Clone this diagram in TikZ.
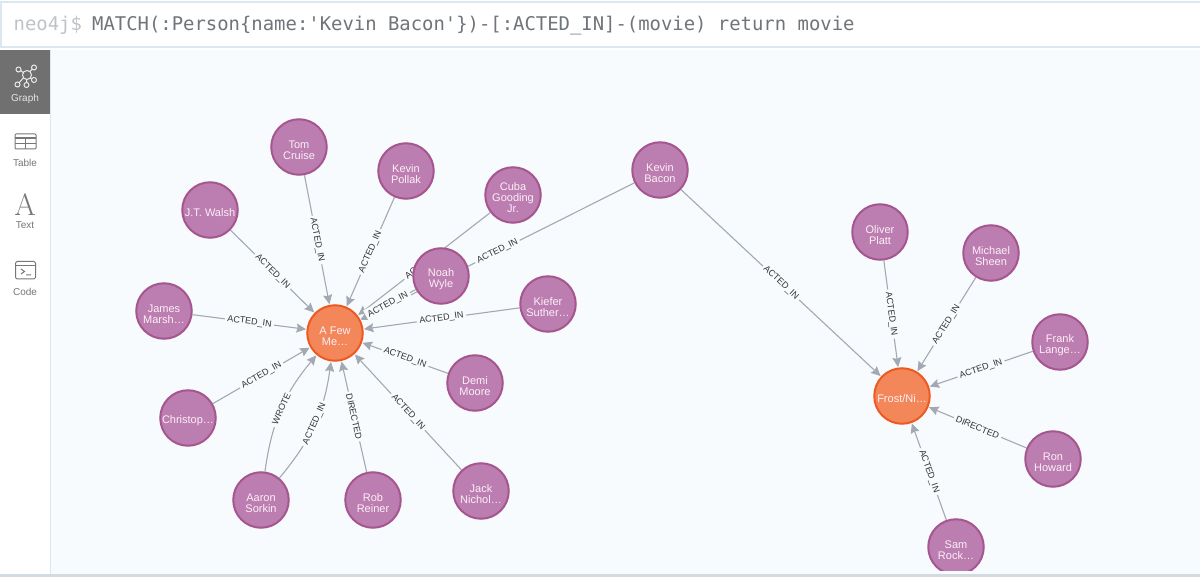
\documentclass[tikz,border=0pt]{standalone}
\usepackage{fontspec}
\setmainfont{Liberation Sans}
\newfontfamily\qfont{DejaVu Sans Mono}
\newfontfamily\afont{Latin Modern Roman}
\usetikzlibrary{arrows.meta,backgrounds}
\newcommand\fl{\rule{0pt}{13.5pt}}
\definecolor{graphbg}{HTML}{F8FBFE}
\definecolor{barline}{HTML}{DCE8F0}
\definecolor{stripc}{HTML}{D3DBE1}
\definecolor{edgec}{HTML}{A2A9B3}
\definecolor{person}{HTML}{BC7EB0}
\definecolor{personb}{HTML}{A5568F}
\definecolor{movie}{HTML}{F4875A}
\definecolor{movieb}{HTML}{EC5A22}
\definecolor{tabc}{HTML}{707070}
\definecolor{iconc}{HTML}{777777}
\definecolor{qgray}{HTML}{6F757A}
\definecolor{qlight}{HTML}{BFC3C7}
\definecolor{ntext}{HTML}{FBEFF8}
\tikzset{
  x=1pt,y=-1pt,
  personnode/.style={circle,draw=personb,fill=person,line width=2pt,minimum size=55.5pt,inner sep=0pt,outer sep=1pt,align=center,text=ntext,font=\fontsize{11}{11.2}\selectfont},
  movienode/.style={personnode,draw=movieb,fill=movie},
  edgeline/.style={draw=edgec,line width=1.1pt,shorten >=0.5pt,-{Stealth[length=9.5pt,width=9pt,inset=1.2pt]}},
  elabel/.style={sloped,pos=.5,fill=graphbg,inner sep=2.5pt,text=black!80,font=\fontsize{9}{9}\selectfont},
  sidelabel/.style={font=\fontsize{10}{10}\selectfont,text=iconc,inner sep=0pt},
  iconline/.style={draw=iconc,line width=1pt},
  graphicon/.style={draw=white!92!black,line width=1pt},
}
\begin{document}
\begin{tikzpicture}
\useasboundingbox (0,0) rectangle (1200,577);
% people
\node[personnode] (tom) at (299,147) {\fl Tom\\Cruise};
\node[personnode] (pollak) at (406,171) {\fl Kevin\\Pollak};
\node[personnode] (cuba) at (513,195) {\fl Cuba\\Gooding\\Jr.};
\node[personnode] (bacon) at (660,170) {\fl Kevin\\Bacon};
\node[personnode] (walsh) at (210,210) {\fl J.T. Walsh};
\node[personnode] (kiefer) at (548,304) {\fl Kiefer\\Suther…};
\node[personnode] (james) at (164,311) {\fl James\\Marsh…};
\node[personnode] (demi) at (475,383) {\fl Demi\\Moore};
\node[personnode] (christop) at (188,418) {\fl Christop…};
\node[personnode] (aaron) at (261,500) {\fl Aaron\\Sorkin};
\node[personnode] (rob) at (373,500) {\fl Rob\\Reiner};
\node[personnode] (jack) at (481,491) {\fl Jack\\Nichol…};
\node[personnode] (noah) at (441,276) {\fl Noah\\Wyle};
\node[personnode] (oliver) at (880,232) {\fl Oliver\\Platt};
\node[personnode] (sheen) at (991,253) {\fl Michael\\Sheen};
\node[personnode] (frank) at (1060,342) {\fl Frank\\Lange…};
\node[personnode] (ron) at (1053,459) {\fl Ron\\Howard};
\node[personnode] (sam) at (956,547) {\fl Sam\\Rock…};
% movies
\node[movienode] (few) at (335,333) {\fl A Few\\Me…};
\node[movienode] (frost) at (902,396) {\fl Frost/Ni…};
\begin{pgfonlayer}{background}
  \fill[white] (0,0) rectangle (1200,577);
  \fill[graphbg] (51,50) rectangle (1200,574);
  \draw[edgeline] (tom) -- node[elabel]{ACTED\_IN} (few);
  \draw[edgeline] (pollak) -- node[elabel]{ACTED\_IN} (few);
  \draw[edgeline] (cuba) -- node[elabel]{ACTED\_IN} (few);
  \draw[edgeline] (bacon) -- node[elabel]{ACTED\_IN} (few);
  \draw[edgeline] (noah) -- node[elabel]{ACTED\_IN} (few);
  \draw[edgeline] (walsh) -- node[elabel]{ACTED\_IN} (few);
  \draw[edgeline] (kiefer) -- node[elabel]{ACTED\_IN} (few);
  \draw[edgeline] (james) -- node[elabel]{ACTED\_IN} (few);
  \draw[edgeline] (demi) -- node[elabel]{ACTED\_IN} (few);
  \draw[edgeline] (christop) -- node[elabel]{ACTED\_IN} (few);
  \draw[edgeline] (aaron) to[bend left=16] node[elabel]{WROTE} (few);
  \draw[edgeline] (aaron) to[bend right=16] node[elabel]{ACTED\_IN} (few);
  \draw[edgeline] (rob) -- node[elabel]{DIRECTED} (few);
  \draw[edgeline] (jack) -- node[elabel]{ACTED\_IN} (few);
  \draw[edgeline] (bacon) -- node[elabel]{ACTED\_IN} (frost);
  \draw[edgeline] (oliver) -- node[elabel]{ACTED\_IN} (frost);
  \draw[edgeline] (sheen) -- node[elabel]{ACTED\_IN} (frost);
  \draw[edgeline] (frank) -- node[elabel]{ACTED\_IN} (frost);
  \draw[edgeline] (ron) -- node[elabel]{DIRECTED} (frost);
  \draw[edgeline] (sam) -- node[elabel]{ACTED\_IN} (frost);
\end{pgfonlayer}
% clip strip at the bottom
\fill[graphbg] (51,571) rectangle (1200,574);
\fill[stripc] (0,574) rectangle (1200,577);
% query bar
\fill[white] (0,0) rectangle (1200,50);
\draw[barline,line width=1.5pt,fill=white] (1,2) rectangle (1201,47);
\node[anchor=base west,inner sep=0pt,text=qlight,font=\qfont\fontsize{18.9}{19}\selectfont] (prompt) at (13.5,31) {neo4j\$};
\node[anchor=base west,inner sep=0pt,text=qgray,font=\qfont\fontsize{18.9}{19}\selectfont] (query) at (92,31) {MATCH(:Person\{name:'Kevin Bacon'\})-[:ACTED\_IN]-(movie) return movie};
% sidebar
\fill[white] (0,50) rectangle (50,574);
\draw[barline,line width=1pt] (50.5,50) -- (50.5,574);
\fill[tabc] (0,50) rectangle (50,114);
% graph icon
\draw[graphicon] (26,75) -- (19,69) (26,75) -- (33.5,68) (26,75) -- (33.5,80) (26,75) -- (18,84) (26,75) -- (27,84);
\draw[graphicon,fill=tabc] (27,75) circle (4.5) (18.5,69.5) circle (2.5) (34,67.5) circle (2.5) (34,80) circle (2.5) (17.5,84.5) circle (2.5) (26.5,85) circle (2.5);
\node[sidelabel,text=white!90!black] (lgraph) at (25,98.5) {Graph};
% table icon
\draw[iconline,rounded corners=1pt] (15,134) rectangle (36,149);
\draw[iconline] (15,137.5) -- (36,137.5) (15,139) -- (36,139) (15,144) -- (36,144) (25.5,139) -- (25.5,149);
\node[sidelabel] (ltable) at (25,162.5) {Table};
% text icon
\node[inner sep=0pt,text=iconc,font=\afont\fontsize{31}{31}\selectfont] (atext) at (25,205) {A};
\node[sidelabel] (ltext) at (25,225.5) {Text};
% code icon
\draw[iconline,rounded corners=1.5pt] (15.5,261.5) rectangle (35.5,279);
\draw[iconline] (15.5,265.5) -- (35.5,265.5);
\draw[iconline] (21,269) -- (24.5,271.5) -- (21,274) (26,275) -- (31,275);
\node[sidelabel] (lcode) at (25,291.5) {Code};
\end{tikzpicture}
\end{document}
